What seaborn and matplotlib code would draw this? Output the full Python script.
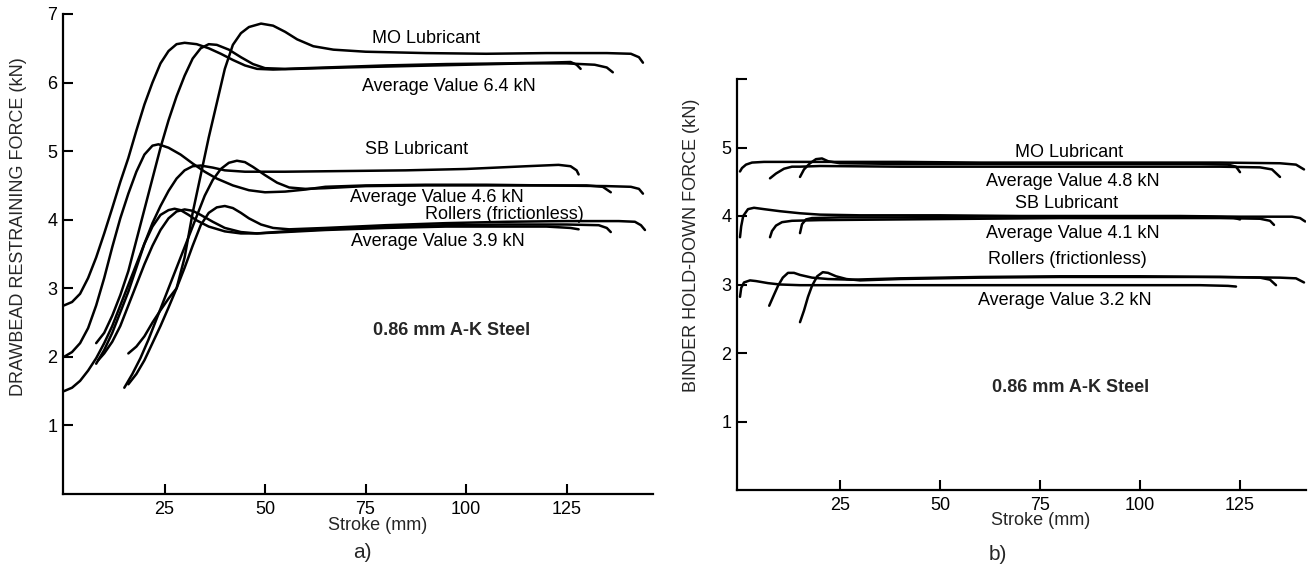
import numpy as np
import pandas as pd
import matplotlib
matplotlib.use("Agg")
import matplotlib.pyplot as plt
import seaborn as sns

sns.set_theme(style="white")
plt.rcParams['font.family'] = ['Liberation Sans', 'DejaVu Sans']

# ---------------- Panel a) drawbead restraining force ----------------
mo1_x = [0, 2, 4, 6, 8, 10, 12, 14, 16, 18, 20, 22, 24, 26, 28, 30, 33, 36, 39, 42, 45, 48, 52, 58, 70, 85, 100, 115, 125, 132, 135, 136.5]
mo1_y = [2.75, 2.8, 2.92, 3.15, 3.45, 3.8, 4.17, 4.55, 4.9, 5.3, 5.68, 6.0, 6.28, 6.46, 6.56, 6.58, 6.56, 6.5, 6.42, 6.33, 6.25, 6.2, 6.19, 6.2, 6.22, 6.24, 6.26, 6.28, 6.28, 6.26, 6.22, 6.15]
mo2_x = [8, 10, 12, 14, 16, 18, 20, 22, 24, 26, 28, 30, 32, 34, 36, 38, 41, 44, 47, 50, 55, 65, 80, 95, 110, 120, 126, 127.5, 128.5]
mo2_y = [2.2, 2.35, 2.6, 2.9, 3.25, 3.7, 4.15, 4.6, 5.05, 5.45, 5.8, 6.1, 6.35, 6.5, 6.56, 6.55, 6.48, 6.37, 6.27, 6.21, 6.2, 6.22, 6.25, 6.27, 6.28, 6.29, 6.3, 6.26, 6.2]
mo3_x = [16, 18, 20, 22, 24, 26, 28, 30, 32, 34, 36, 38, 40, 42, 44, 46, 49, 52, 55, 58, 62, 67, 75, 90, 105, 120, 135, 141, 143, 144]
mo3_y = [2.05, 2.15, 2.3, 2.5, 2.68, 2.85, 3.0, 3.45, 4.1, 4.65, 5.2, 5.7, 6.2, 6.55, 6.72, 6.81, 6.86, 6.83, 6.74, 6.63, 6.53, 6.48, 6.45, 6.43, 6.42, 6.43, 6.43, 6.42, 6.37, 6.29]

sb1_x = [0, 2, 4, 6, 8, 10, 12, 14, 16, 18, 20, 22, 23.5, 26, 29, 32, 35, 38, 42, 46, 50, 55, 60, 65, 75, 90, 105, 120, 130, 134, 136]
sb1_y = [2.0, 2.07, 2.2, 2.42, 2.75, 3.15, 3.6, 4.02, 4.38, 4.7, 4.95, 5.08, 5.1, 5.05, 4.95, 4.82, 4.7, 4.6, 4.5, 4.43, 4.4, 4.41, 4.44, 4.48, 4.5, 4.51, 4.51, 4.5, 4.5, 4.48, 4.4]
sb2_x = [8, 10, 12, 14, 16, 18, 20, 22, 24, 26, 28, 30, 32, 34, 37, 40, 45, 55, 70, 85, 100, 115, 123, 126, 127.5, 128]
sb2_y = [1.9, 2.1, 2.35, 2.65, 2.95, 3.3, 3.65, 3.95, 4.2, 4.42, 4.6, 4.72, 4.78, 4.79, 4.76, 4.72, 4.7, 4.7, 4.71, 4.72, 4.74, 4.78, 4.8, 4.78, 4.72, 4.66]
sb3_x = [15, 17, 19, 21, 23, 25, 27, 29, 31, 33, 35, 37, 39, 41, 43, 45, 47, 50, 53, 56, 60, 65, 75, 90, 105, 120, 135, 141, 143, 144]
sb3_y = [1.55, 1.75, 1.98, 2.25, 2.55, 2.85, 3.15, 3.45, 3.75, 4.05, 4.35, 4.58, 4.74, 4.83, 4.86, 4.84, 4.77, 4.65, 4.54, 4.47, 4.45, 4.46, 4.49, 4.5, 4.5, 4.5, 4.49, 4.48, 4.45, 4.38]

ro1_x = [0, 2, 4, 6, 8, 10, 12, 14, 16, 18, 20, 22, 24, 26, 27.5, 29, 31, 33, 36, 40, 44, 48, 55, 65, 80, 95, 110, 120, 126, 128]
ro1_y = [1.5, 1.55, 1.65, 1.8, 1.98, 2.2, 2.45, 2.75, 3.05, 3.35, 3.65, 3.9, 4.07, 4.14, 4.16, 4.14, 4.07, 3.99, 3.9, 3.83, 3.8, 3.8, 3.82, 3.85, 3.88, 3.9, 3.9, 3.9, 3.88, 3.86]
ro2_x = [8.5, 10, 12, 14, 16, 18, 20, 22, 24, 26, 28, 30, 32, 34, 37, 40, 44, 48, 55, 65, 80, 95, 110, 125, 133, 135, 136]
ro2_y = [1.95, 2.05, 2.22, 2.45, 2.75, 3.05, 3.35, 3.62, 3.85, 4.02, 4.12, 4.15, 4.13, 4.07, 3.97, 3.88, 3.82, 3.8, 3.83, 3.86, 3.9, 3.92, 3.93, 3.93, 3.92, 3.88, 3.82]
ro3_x = [16, 18, 20, 22, 24, 26, 28, 30, 32, 34, 36, 38, 40, 42, 44, 46, 49, 52, 56, 65, 80, 95, 110, 125, 138, 142, 143.5, 144.5]
ro3_y = [1.6, 1.75, 1.95, 2.2, 2.45, 2.72, 3.0, 3.3, 3.62, 3.92, 4.1, 4.18, 4.2, 4.17, 4.1, 4.02, 3.93, 3.88, 3.86, 3.88, 3.92, 3.95, 3.97, 3.98, 3.98, 3.97, 3.92, 3.85]

# ---------------- Panel b) binder hold-down force ----------------
bmo1_x = [0, 0.5, 1.5, 3, 6, 10, 20, 40, 60, 80, 100, 120, 135, 139, 141]
bmo1_y = [4.65, 4.7, 4.75, 4.78, 4.79, 4.79, 4.79, 4.79, 4.78, 4.78, 4.78, 4.78, 4.77, 4.75, 4.68]
bmo2_x = [7.5, 9, 11, 13, 15, 20, 40, 60, 80, 100, 120, 130, 133, 135]
bmo2_y = [4.55, 4.62, 4.69, 4.72, 4.72, 4.73, 4.72, 4.72, 4.72, 4.72, 4.72, 4.71, 4.68, 4.57]
bmo3_x = [15, 16, 17.5, 19, 20.5, 22, 25, 40, 60, 80, 100, 115, 122, 124, 125]
bmo3_y = [4.57, 4.68, 4.77, 4.83, 4.84, 4.8, 4.77, 4.76, 4.76, 4.76, 4.76, 4.76, 4.75, 4.72, 4.64]

bsb1_x = [0, 0.3, 0.8, 2, 3.5, 6, 10, 15, 20, 30, 50, 70, 90, 110, 125, 138, 140, 141.3]
bsb1_y = [3.69, 3.85, 4.0, 4.1, 4.12, 4.1, 4.07, 4.04, 4.02, 4.01, 4.01, 4.0, 4.0, 4.0, 3.99, 3.99, 3.97, 3.92]
bsb2_x = [7.5, 8, 9, 10.5, 13, 20, 40, 60, 80, 100, 120, 130, 132.5, 133.5]
bsb2_y = [3.69, 3.78, 3.86, 3.91, 3.93, 3.94, 3.95, 3.96, 3.97, 3.97, 3.97, 3.96, 3.93, 3.87]
bsb3_x = [15, 15.5, 16.5, 18, 25, 40, 60, 80, 100, 115, 123, 125]
bsb3_y = [3.75, 3.88, 3.95, 3.97, 3.98, 3.98, 3.99, 3.99, 3.99, 3.99, 3.98, 3.95]

bro1_x = [0, 0.3, 1, 2.5, 4, 7, 10, 15, 25, 40, 60, 80, 100, 115, 122, 124]
bro1_y = [2.82, 2.95, 3.03, 3.06, 3.05, 3.02, 3.0, 2.99, 2.99, 2.99, 2.99, 2.99, 2.99, 2.99, 2.98, 2.97]
bro2_x = [7.3, 8.5, 9.5, 10.7, 12, 13.5, 15, 18, 22, 28, 40, 60, 80, 100, 120, 130, 132.5, 134]
bro2_y = [2.69, 2.85, 2.98, 3.1, 3.17, 3.17, 3.14, 3.1, 3.08, 3.07, 3.09, 3.11, 3.12, 3.12, 3.11, 3.1, 3.07, 2.99]
bro3_x = [15, 16, 17, 18, 19.3, 20.7, 22, 24, 26.6, 30, 40, 60, 80, 100, 120, 135, 139, 141]
bro3_y = [2.45, 2.62, 2.82, 2.98, 3.12, 3.18, 3.17, 3.12, 3.08, 3.06, 3.08, 3.1, 3.11, 3.11, 3.11, 3.1, 3.09, 3.03]

left_curves = {
    "MO 1": (mo1_x, mo1_y), "MO 2": (mo2_x, mo2_y), "MO 3": (mo3_x, mo3_y),
    "SB 1": (sb1_x, sb1_y), "SB 2": (sb2_x, sb2_y), "SB 3": (sb3_x, sb3_y),
    "Rollers 1": (ro1_x, ro1_y), "Rollers 2": (ro2_x, ro2_y), "Rollers 3": (ro3_x, ro3_y),
}
right_curves = {
    "MO 1": (bmo1_x, bmo1_y), "MO 2": (bmo2_x, bmo2_y), "MO 3": (bmo3_x, bmo3_y),
    "SB 1": (bsb1_x, bsb1_y), "SB 2": (bsb2_x, bsb2_y), "SB 3": (bsb3_x, bsb3_y),
    "Rollers 1": (bro1_x, bro1_y), "Rollers 2": (bro2_x, bro2_y), "Rollers 3": (bro3_x, bro3_y),
}

left_labels = ["MO Lubricant", "Average Value 6.4 kN", "SB Lubricant", "Average Value 4.6 kN",
               "Rollers (frictionless)", "Average Value 3.9 kN"]
left_label_x = [90.0, 95.8, 87.8, 92.8, 109.5, 93.0]
left_label_y = [6.64, 5.94, 5.03, 4.32, 4.08, 3.68]
right_labels = ["MO Lubricant", "Average Value 4.8 kN", "SB Lubricant", "Average Value 4.1 kN",
                "Rollers (frictionless)", "Average Value 3.2 kN"]
right_label_x = [82.3, 83.3, 81.6, 83.3, 81.8, 81.3]
right_label_y = [4.92, 4.50, 4.18, 3.74, 3.37, 2.77]

x_ticks = [25, 50, 75, 100, 125]
left_y_ticks = [1, 2, 3, 4, 5, 6, 7]
left_y_ticklabels = ["1", "2", "3", "4", "5", "6", "7"]
right_y_ticks = [1, 2, 3, 4, 5, 6]
right_y_ticklabels = ["1", "2", "3", "4", "5", ""]


def to_frame(curves):
    rows = []
    for name, (xs, ys) in curves.items():
        for i, (x, y) in enumerate(zip(xs, ys)):
            rows.append({"curve": name, "order": i, "stroke": x, "force": y})
    return pd.DataFrame(rows)


dfL = to_frame(left_curves)
dfR = to_frame(right_curves)

W, H = 1315, 566
fig = plt.figure(figsize=(W / 100, H / 100), dpi=100)
axL = fig.add_axes([63 / W, (H - 494) / H, (653 - 63) / W, (494 - 14) / H])
axR = fig.add_axes([737 / W, (H - 490) / H, (1306 - 737) / W, (490 - 79) / H])

FS = 13
for ax, df in ((axL, dfL), (axR, dfR)):
    sns.lineplot(data=df, x="stroke", y="force", units="curve", estimator=None, sort=False,
                 color="black", linewidth=1.8, legend=False, ax=ax)
    for side in ("top", "right"):
        ax.spines[side].set_visible(False)
    for side in ("left", "bottom"):
        ax.spines[side].set_color("black")
        ax.spines[side].set_linewidth(1.6)
    ax.tick_params(axis="both", which="both", direction="in", length=7, width=1.5,
                   colors="black", labelsize=FS, bottom=True, left=True)
    ax.tick_params(axis="x", pad=5)
    ax.tick_params(axis="y", pad=4)
    ax.set_xticks(x_ticks)
    ax.set_xticklabels([str(t) for t in x_ticks])
    ax.grid(False)
    ax.set_facecolor("white")

axL.set_xlim(-0.25, 146.5)
axL.set_ylim(0, 7)
axL.set_yticks(left_y_ticks)
axL.set_yticklabels(left_y_ticklabels)

axR.set_xlim(-0.75, 141.5)
axR.set_ylim(0, 6)
axR.set_yticks(right_y_ticks)
axR.set_yticklabels(right_y_ticklabels)

axL.set_xlabel("Stroke (mm)", fontsize=FS)
axL.xaxis.set_label_coords(0.534, -0.065)
axL.xaxis.label.set_va("center")
axR.set_xlabel("Stroke (mm)", fontsize=FS)
axR.xaxis.set_label_coords(0.533, -0.073)
axR.xaxis.label.set_va("center")

axL.set_ylabel("DRAWBEAD RESTRAINING FORCE (kN)", fontsize=FS)
axL.yaxis.set_label_coords(-0.076, 0.558)
axL.yaxis.label.set_va("center")
axR.set_ylabel("BINDER HOLD-DOWN FORCE (kN)", fontsize=FS)
axR.yaxis.set_label_coords(-0.080, 0.596)
axR.yaxis.label.set_va("center")

for s, x, y in zip(left_labels, left_label_x, left_label_y):
    axL.text(x, y, s, ha="center", va="center", fontsize=FS, color="black")
for s, x, y in zip(right_labels, right_label_x, right_label_y):
    axR.text(x, y, s, ha="center", va="center", fontsize=FS, color="black")

axL.text(96.3, 2.38, "0.86 mm A-K Steel", ha="center", va="center", fontsize=FS, fontweight="bold")
axR.text(82.6, 1.49, "0.86 mm A-K Steel", ha="center", va="center", fontsize=FS, fontweight="bold")

fig.text(362 / W, 1 - 553 / H, "a)", ha="center", va="center", fontsize=15)
fig.text(998 / W, 1 - 555 / H, "b)", ha="center", va="center", fontsize=15)

fig.savefig("out.png", dpi=100, facecolor="white")
